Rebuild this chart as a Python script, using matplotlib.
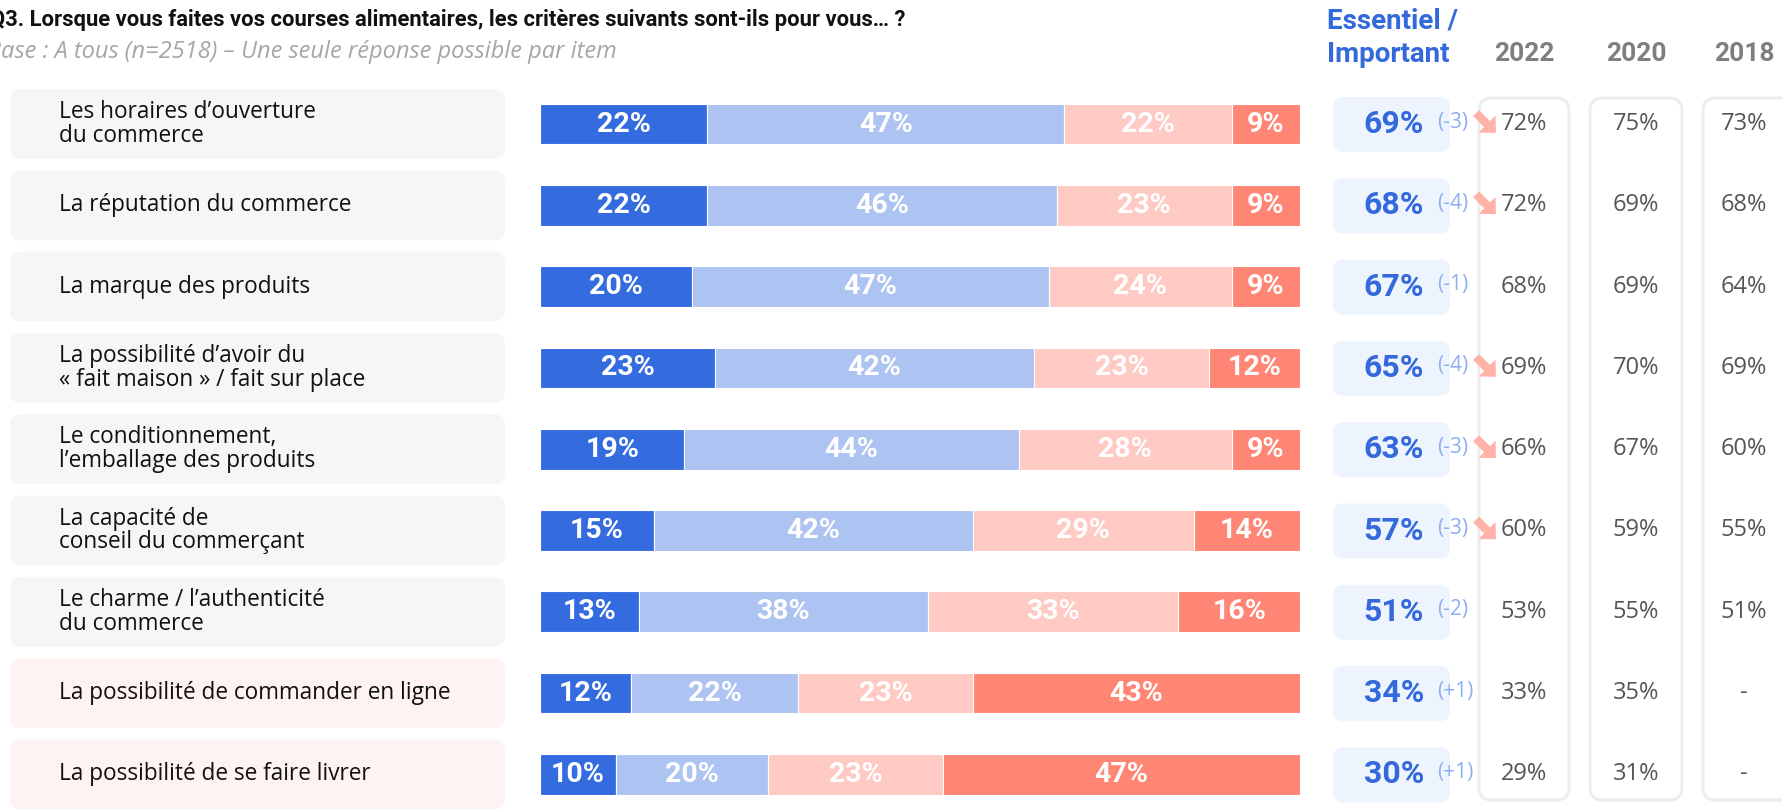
import matplotlib
matplotlib.use("Agg")
import matplotlib.pyplot as plt
from matplotlib.patches import FancyBboxPatch, Polygon
import numpy as np

# ---------------- data ----------------
labels = [
    "Les horaires d’ouverture\ndu commerce",
    "La réputation du commerce",
    "La marque des produits",
    "La possibilité d’avoir du\n« fait maison » / fait sur place",
    "Le conditionnement,\nl’emballage des produits",
    "La capacité de\nconseil du commerçant",
    "Le charme / l’authenticité\ndu commerce",
    "La possibilité de commander en ligne",
    "La possibilité de se faire livrer",
]
essentiel = [22, 22, 20, 23, 19, 15, 13, 12, 10]
important = [47, 46, 47, 42, 44, 42, 38, 22, 20]
secondaire = [22, 23, 24, 23, 28, 29, 33, 23, 23]
pas_important = [9, 9, 9, 12, 9, 14, 16, 43, 47]
v2022 = [72, 72, 68, 69, 66, 60, 53, 33, 29]
v2020 = [75, 69, 69, 70, 67, 59, 55, 35, 31]
v2018 = [73, 68, 64, 69, 60, 55, 51, None, None]
significant_drop = [True, True, False, True, True, True, False, False, False]
highlight = [False] * 7 + [True, True]
years = ["2022", "2020", "2018"]
title = "Q3. Lorsque vous faites vos courses alimentaires, les critères suivants sont-ils pour vous… ?"
subtitle = "Base : A tous (n=2518) – Une seule réponse possible par item"

series = [essentiel, important, secondaire, pas_important]
colors = ["#346CDF", "#ADC3F1", "#FECAC3", "#FF8574"]

# ---------------- layout ----------------
W, H = 1783, 809
fig = plt.figure(figsize=(W / 100, H / 100), dpi=100)
bg = fig.add_axes([0, 0, 1, 1])
bg.set_xlim(0, W)
bg.set_ylim(H, 0)
bg.axis("off")

n = len(labels)
y0, pitch = 124, 81.3
rows_y = [y0 + pitch * i for i in range(n)]

LBL = ["Open Sans", "DejaVu Sans"]
BOLD = ["Roboto", "DejaVu Sans"]

# title
bg.text(-10, 20, title, fontsize=15.8, fontweight="bold", family=BOLD,
        color="#111111", va="center", ha="left")
bg.text(-13, 52, subtitle, fontsize=17, style="italic", family=LBL,
        color="#A6A6A6", va="center", ha="left")

# header
bg.text(1327, 21, "Essentiel /", fontsize=20, fontweight="bold", family=BOLD,
        color="#3369DB", va="center", ha="left")
bg.text(1327, 54, "Important", fontsize=20, fontweight="bold", family=BOLD,
        color="#3369DB", va="center", ha="left")
col_x = [1524, 1636, 1744]
col_box = [(1479, 1569), (1590, 1682), (1703, 1800)]
for cx, yr in zip(col_x, years):
    bg.text(cx, 54, yr, fontsize=19, fontweight="bold", family=BOLD,
            color="#7F7F7F", va="center", ha="center")

# column boxes
for (xa, xb) in col_box:
    bg.add_patch(FancyBboxPatch((xa, 98), xb - xa, 702,
                                boxstyle="round,pad=0,rounding_size=13",
                                fc="white", ec="#EDEDED", lw=2.2, zorder=1))

# arrow shape (local coords: u along direction, v across)
arrow_uv = np.array([(-14, -4.2), (1.5, -4.2), (1.5, -12), (14, 0),
                     (1.5, 12), (1.5, 4.2), (-14, 4.2)])

for i, y in enumerate(rows_y):
    # label box
    fc = "#FFF2F2" if highlight[i] else "#F6F6F6"
    bg.add_patch(FancyBboxPatch((10, y - 35), 495, 70,
                                boxstyle="round,pad=0,rounding_size=11",
                                fc=fc, ec="none", zorder=1))
    bg.text(59, y, labels[i], fontsize=16.3, family=LBL, color="#111111",
            va="center", ha="left", linespacing=0.98, zorder=3)
    # essentiel/important box
    tot = essentiel[i] + important[i]
    bg.add_patch(FancyBboxPatch((1333, y - 27), 117, 55,
                                boxstyle="round,pad=0,rounding_size=10",
                                fc="#EEF4FE", ec="none", zorder=2))
    bg.text(1394, y, f"{tot}%", fontsize=23, fontweight="bold", family=BOLD,
            color="#3369DB", va="center", ha="center", zorder=3)
    d = tot - v2022[i]
    bg.text(1437, y - 2, f"({d:+d})" if d > 0 else f"({d})", fontsize=15,
            family=LBL, color="#8DAEF0", va="center", ha="left", zorder=4)
    if significant_drop[i]:
        cx0, cy0 = 1486, y - 1
        u, v = arrow_uv[:, 0], arrow_uv[:, 1]
        pts = np.column_stack([cx0 + (u + v) / np.sqrt(2), cy0 + (u - v) / np.sqrt(2)])
        bg.add_patch(Polygon(pts, closed=True, fc="#FFB2A7", ec="none", zorder=4))
    for cx, vals in zip(col_x, [v2022, v2020, v2018]):
        v_ = vals[i]
        txt = "-" if v_ is None else f"{v_}%"
        bg.text(cx, y, txt, fontsize=17, family=LBL,
                color="#555555", va="center", ha="center", zorder=3)

# ---------------- bars ----------------
top_px = y0 - pitch / 2
bot_px = y0 + pitch * (n - 0.5)
bx = fig.add_axes([540 / W, 1 - bot_px / H, 760 / W, (bot_px - top_px) / H])
bx.set_xlim(0, 100)
bx.set_ylim(n - 0.5, -0.5)
bx.axis("off")
bx.patch.set_alpha(0)
ypos = np.arange(n)
left = np.zeros(n)
for vals, c in zip(series, colors):
    vals = np.array(vals, dtype=float)
    bx.barh(ypos, vals, left=left, height=0.5, color=c, edgecolor="white", lw=0.8)
    for j in range(n):
        bx.text(left[j] + vals[j] / 2, ypos[j], f"{int(vals[j])}%", fontsize=20.5,
                fontweight="bold", family=BOLD, color="white",
                ha="center", va="center")
    left += vals

fig.savefig("out.png", dpi=100)
